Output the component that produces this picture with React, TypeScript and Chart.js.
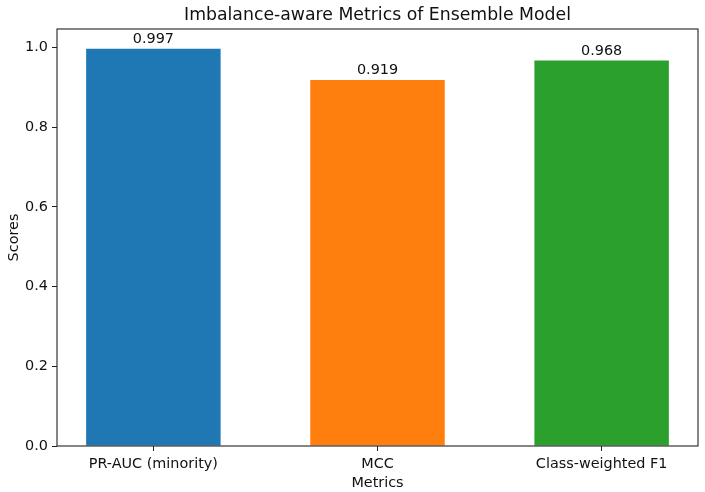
import React, { useEffect, useRef } from "react";
import { Chart, registerables } from "chart.js";

Chart.register(...registerables);

const categories = ["PR-AUC (minority)", "MCC", "Class-weighted F1"];
const scores = [0.997, 0.919, 0.968];
const valueLabels = ["0.997", "0.919", "0.968"];
const barColors = ["#1f77b4", "#ff7f0e", "#2ca02c"];
const yTicks = [0, 0.2, 0.4, 0.6, 0.8, 1.0];
const chartTitle = "Imbalance-aware Metrics of Ensemble Model";
const xTitle = "Metrics";
const yTitle = "Scores";

const FONT = "'DejaVu Sans', sans-serif";

export default function App() {
  const ref = useRef<HTMLCanvasElement | null>(null);
  useEffect(() => {
    if (!ref.current) return;
    const overlay = {
      id: "overlay",
      afterDraw(chart: any) {
        const { ctx, chartArea } = chart;
        const xs = chart.scales.x;
        const ys = chart.scales.y;
        ctx.save();
        ctx.strokeStyle = "#222";
        ctx.lineWidth = 1.1;
        ctx.strokeRect(chartArea.left, chartArea.top, chartArea.right - chartArea.left, chartArea.bottom - chartArea.top);
        ctx.fillStyle = "#111";
        ctx.textAlign = "center";
        ctx.textBaseline = "alphabetic";
        ctx.font = `14.4px ${FONT}`;
        scores.forEach((v, i) => {
          ctx.fillText(valueLabels[i], xs.getPixelForValue(i), ys.getPixelForValue(v) - 5.5);
        });
        ctx.font = `17.3px ${FONT}`;
        ctx.fillText(chartTitle, (chartArea.left + chartArea.right) / 2, 19.5);
        ctx.font = `14.4px ${FONT}`;
        ctx.fillText(xTitle, (chartArea.left + chartArea.right) / 2, 487);
        ctx.translate(17.5, (chartArea.top + chartArea.bottom) / 2);
        ctx.rotate(-Math.PI / 2);
        ctx.fillText(yTitle, 0, 0);
        ctx.restore();
      },
    };
    const chart = new Chart(ref.current, {
      type: "bar",
      data: {
        datasets: [
          {
            data: scores.map((v, i) => ({ x: i, y: v })),
            backgroundColor: barColors,
            barPercentage: 0.6,
            categoryPercentage: 1,
          },
        ],
      },
      options: {
        animation: false,
        responsive: false,
        layout: { padding: { top: 29, right: 7, left: 0, bottom: 0 } },
        plugins: { legend: { display: false }, tooltip: { enabled: false }, title: { display: false } },
        scales: {
          x: {
            type: "linear",
            min: -0.43,
            max: 2.43,
            offset: false,
            afterBuildTicks: (s: any) => {
              s.ticks = categories.map((_, i) => ({ value: i }));
            },
            afterFit: (s: any) => {
              s.height = 492 - 446;
            },
            ticks: {
              callback: (v: any) => categories[Math.round(Number(v))] ?? "",
              color: "#111",
              font: { family: FONT, size: 14.4 },
              padding: 5,
              maxRotation: 0,
              autoSkip: false,
            },
            grid: { display: true, offset: false, drawOnChartArea: false, drawTicks: true, tickLength: 5, color: "#222" },
            border: { display: false },
          },
          y: {
            min: 0,
            max: 1.0468,
            afterBuildTicks: (s: any) => {
              s.ticks = yTicks.map((v) => ({ value: v }));
            },
            afterFit: (s: any) => {
              s.width = 57;
            },
            ticks: {
              callback: (v: any) => Number(v).toFixed(1),
              color: "#111",
              font: { family: FONT, size: 14.4 },
              padding: 4,
            },
            grid: { display: true, drawOnChartArea: false, drawTicks: true, tickLength: 5, color: "#222" },
            border: { display: false },
          },
        },
      },
      plugins: [overlay],
    });
    return () => chart.destroy();
  }, []);
  return (
    <div style={{ position: "fixed", left: 0, top: 0, width: 705, height: 492, background: "#fff" }}>
      <canvas ref={ref} width={705} height={492} style={{ width: 705, height: 492 }} />
    </div>
  );
}
